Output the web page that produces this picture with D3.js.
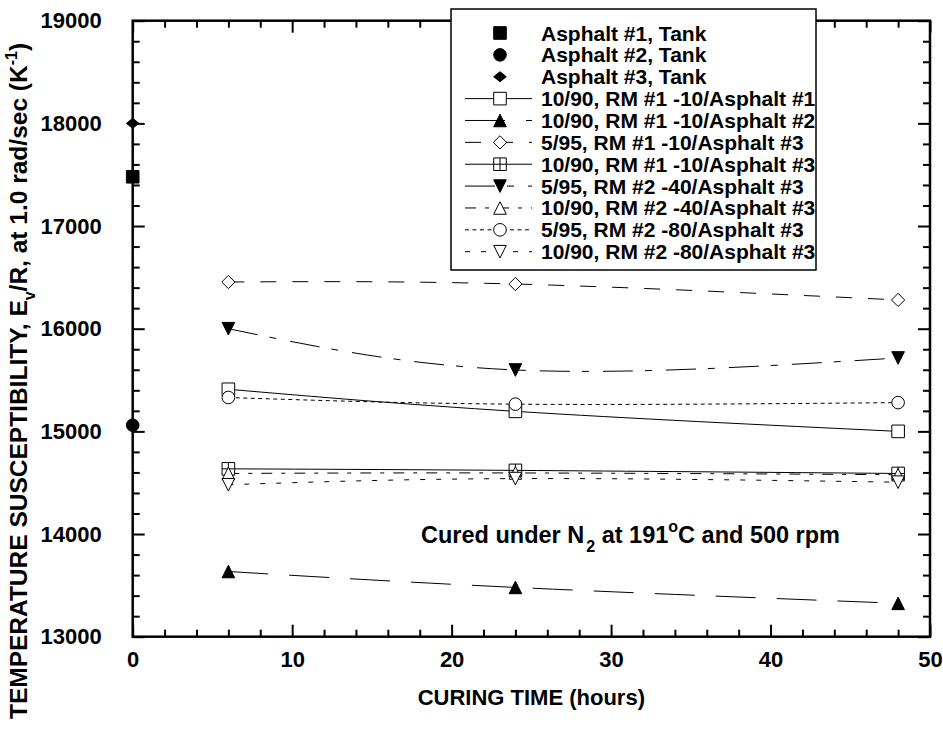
<html>
<head>
<meta charset="utf-8">
<style>
  body { margin: 0; background: #fff; }
  text { font-family: "Liberation Sans", Arial, sans-serif; font-weight: bold; fill: #000; }
</style>
</head>
<body>
<svg width="943" height="735"></svg>
<script src="https://cdnjs.cloudflare.com/ajax/libs/d3/7.8.5/d3.min.js"></script>
<script>
// curing times (hours) shared by every blend series
var hours = [6, 24, 48]

// unaged tank asphalts, plotted at time 0
var tankNames = ["Asphalt #1, Tank", "Asphalt #2, Tank", "Asphalt #3, Tank"]
var tankValues = [17480, 15060, 18000]

// blends, in legend order
var blendNames = [
  "10/90, RM #1 -10/Asphalt #1",
  "10/90, RM #1 -10/Asphalt #2",
  "5/95, RM #1 -10/Asphalt #3",
  "10/90, RM #1 -10/Asphalt #3",
  "5/95, RM #2 -40/Asphalt #3",
  "10/90, RM #2 -40/Asphalt #3",
  "5/95, RM #2 -80/Asphalt #3",
  "10/90, RM #2 -80/Asphalt #3"
]
var rm1a1 = [15410, 15195, 15000]
var rm1a2 = [13635, 13480, 13325]
var rm1a3low = [16455, 16435, 16280]
var rm1a3 = [14635, 14620, 14590]
var rm240low = [16000, 15598, 15715]
var rm240 = [14590, 14595, 14578]
var rm280low = [15330, 15265, 15280]
var rm280 = [14480, 14540, 14505]
var blendValues = [rm1a1, rm1a2, rm1a3low, rm1a3, rm240low, rm240, rm280low, rm280]

var xMajor = [0, 10, 20, 30, 40, 50]
var yMajor = [13000, 14000, 15000, 16000, 17000, 18000, 19000]

// marker + line style per legend entry
var tankShapes = ["squareFilled", "circleFilled", "diamondFilled"]
var blendShapes = ["square", "triUpFilled", "diamond", "squareCross", "triDownFilled", "triUp", "circle", "triDown"]
var blendDash = [null, "40,21", "16,16", null, "30,12,7,14", "11,9,4,9", "4,3.5", "5,11"]

var svg = d3.select("svg")
var pLeft = 132.7, pRight = 930, pTop = 20.7, pBottom = 636.7

var x = d3.scaleLinear().domain([0, 50]).range([pLeft, pRight])
var y = d3.scaleLinear().domain([13000, 19000]).range([pBottom, pTop])

// shapes as path strings centred on 0,0
function shapePath(type) {
  var r = 6.3
  var p = d3.path()
  if (type.indexOf("square") === 0) {
    p.rect(-r, -r, 2 * r, 2 * r)
    if (type === "squareCross") {
      p.moveTo(0, -r); p.lineTo(0, r)
      p.moveTo(-r, 0); p.lineTo(r, 0)
    }
  } else if (type.indexOf("circle") === 0) {
    p.moveTo(r, 0); p.arc(0, 0, r, 0, 2 * Math.PI)
  } else if (type === "diamond") {
    p.moveTo(0, -r - 0.3); p.lineTo(r + 0.3, 0); p.lineTo(0, r + 0.3); p.lineTo(-r - 0.3, 0); p.closePath()
  } else if (type === "diamondFilled") {
    p.moveTo(0, -5); p.lineTo(6.3, 0); p.lineTo(0, 5); p.lineTo(-6.3, 0); p.closePath()
  } else if (type.indexOf("triUp") === 0) {
    p.moveTo(0, -r); p.lineTo(r, r); p.lineTo(-r, r); p.closePath()
  } else if (type.indexOf("triDown") === 0) {
    p.moveTo(0, r); p.lineTo(r, -r); p.lineTo(-r, -r); p.closePath()
  }
  return p.toString()
}
function isFilled(type) { return type.indexOf("Filled") > 0 }

function drawMarker(g, type, cx, cy) {
  g.append("path")
    .attr("d", shapePath(type))
    .attr("transform", "translate(" + cx + "," + cy + ")")
    .attr("fill", isFilled(type) ? "#000" : "#fff")
    .attr("stroke", "#000")
    .attr("stroke-width", 1)
}

// ---- axes: ticks point inward on all four sides
var xMinor = d3.range(0, 51, 2).filter(function (v) { return v % 10 !== 0 })
var yMinor = d3.range(13000, 19001, 200).filter(function (v) { return v % 1000 !== 0 })

function tickAxis(axis, scale, translate, values, size, labels) {
  var g = svg.append("g")
    .attr("transform", translate)
    .call(axis(scale).tickValues(values).tickSize(-size).tickSizeOuter(0)
      .tickPadding(axis === d3.axisLeft ? 31 : 15)
      .tickFormat(labels ? d3.format("d") : ""))
  g.select(".domain").remove()
  g.selectAll(".tick line").attr("stroke", "#000").attr("stroke-width", 2)
  g.selectAll("text").attr("font-size", 22).attr("font-family", null)
  return g
}
tickAxis(d3.axisBottom, x, "translate(0," + pBottom + ")", xMajor, 12, true)
tickAxis(d3.axisBottom, x, "translate(0," + pBottom + ")", xMinor, 7, false)
tickAxis(d3.axisTop, x, "translate(0," + pTop + ")", xMajor, 12, false)
tickAxis(d3.axisTop, x, "translate(0," + pTop + ")", xMinor, 7, false)
tickAxis(d3.axisLeft, y, "translate(" + pLeft + ",0)", yMajor, 12, true)
tickAxis(d3.axisLeft, y, "translate(" + pLeft + ",0)", yMinor, 7, false)
tickAxis(d3.axisRight, y, "translate(" + pRight + ",0)", yMajor, 12, false)
tickAxis(d3.axisRight, y, "translate(" + pRight + ",0)", yMinor, 7, false)

svg.append("rect")
  .attr("x", pLeft).attr("y", pTop)
  .attr("width", pRight - pLeft).attr("height", pBottom - pTop)
  .attr("fill", "none").attr("stroke", "#000").attr("stroke-width", 2.5)

// ---- blend curves
var line = d3.line()
  .x(function (d) { return x(d[0]) })
  .y(function (d) { return y(d[1]) })
  .curve(d3.curveNatural)

var plot = svg.append("g")
blendValues.forEach(function (vals, i) {
  plot.append("path")
    .datum(hours.map(function (h, j) { return [h, vals[j]] }))
    .attr("d", line)
    .attr("fill", "none")
    .attr("stroke", "#000")
    .attr("stroke-width", 1)
    .attr("stroke-dasharray", blendDash[i])
})
blendValues.forEach(function (vals, i) {
  hours.forEach(function (h, j) { drawMarker(plot, blendShapes[i], x(h), y(vals[j])) })
})
tankValues.forEach(function (v, i) { drawMarker(plot, tankShapes[i], x(0), y(v)) })

// ---- legend
var legend = svg.append("g")
legend.append("rect")
  .attr("x", 451).attr("y", 9).attr("width", 365).attr("height", 261)
  .attr("fill", "#fff").attr("stroke", "#000").attr("stroke-width", 1.5)

var entries = tankNames.map(function (n, i) { return { name: n, shape: tankShapes[i], dash: undefined } })
  .concat(blendNames.map(function (n, i) { return { name: n, shape: blendShapes[i], dash: blendDash[i] } }))

entries.forEach(function (e, i) {
  var cy = 33 + i * 21.87
  if (e.dash !== undefined) {
    legend.append("line")
      .attr("x1", 465).attr("x2", 532).attr("y1", cy).attr("y2", cy)
      .attr("stroke", "#000").attr("stroke-width", 1)
      .attr("stroke-dasharray", e.dash)
  }
  drawMarker(legend, e.shape, 500, cy)
  legend.append("text")
    .attr("x", 541).attr("y", cy + 7.5)
    .attr("font-size", 21)
    .text(e.name)
})

// ---- annotation
var note = svg.append("text").attr("x", 421).attr("y", 543).attr("font-size", 23.5)
note.append("tspan").text("Cured under N")
note.append("tspan").attr("dy", 9).attr("dx", 2).attr("font-size", 16).text("2")
note.append("tspan").attr("dy", -9).text(" at 191")
note.append("tspan").attr("dy", -11).attr("font-size", 16).text("o")
note.append("tspan").attr("dy", 11).text("C and 500 rpm")

// ---- axis titles
svg.append("text")
  .attr("x", (pLeft + pRight) / 2).attr("y", 705)
  .attr("text-anchor", "middle")
  .attr("font-size", 22)
  .text("CURING TIME (hours)")

var yTitle = svg.append("text")
  .attr("transform", "translate(27,381) rotate(-90)")
  .attr("text-anchor", "middle")
  .attr("font-size", 24.5)
yTitle.append("tspan").text("TEMPERATURE SUSCEPTIBILITY, E")
yTitle.append("tspan").attr("dy", 8).attr("font-size", 16).text("v")
yTitle.append("tspan").attr("dy", -8).text("/R, at 1.0 rad/sec (K")
yTitle.append("tspan").attr("dy", -10).attr("font-size", 16).text("-1")
yTitle.append("tspan").attr("dy", 10).text(")")
</script>
</body>
</html>
